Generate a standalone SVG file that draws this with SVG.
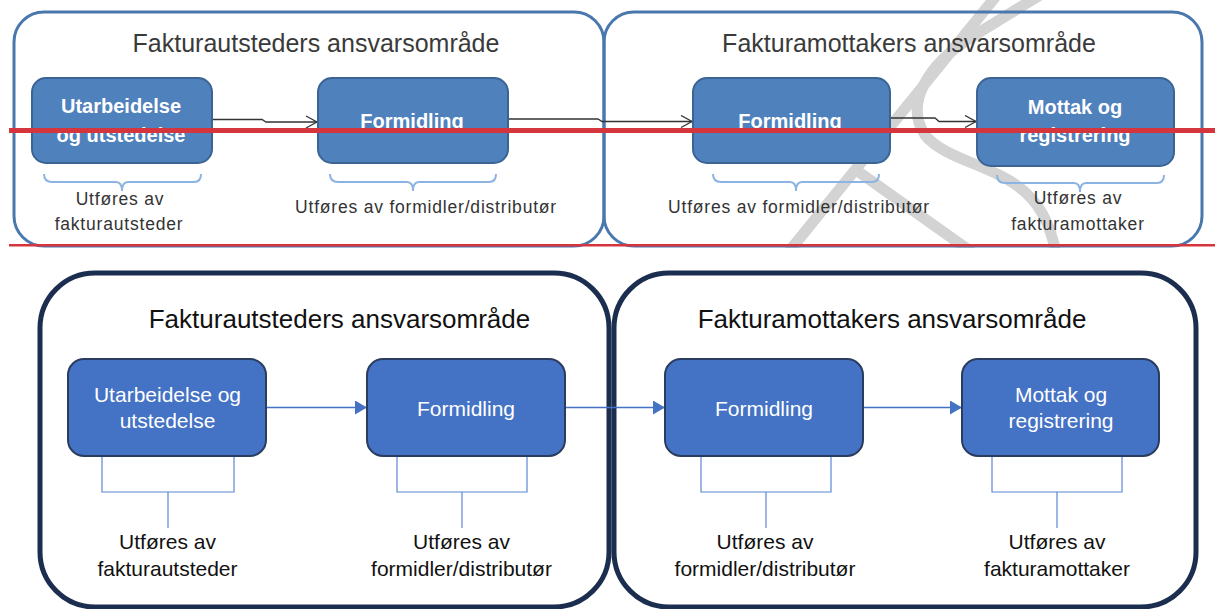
<svg xmlns="http://www.w3.org/2000/svg" width="1215" height="609" viewBox="0 0 1215 609">
<style>
text{font-family:"Liberation Sans",Arial,sans-serif}
.t-title{font-size:25px;fill:#3a3a3a;text-anchor:middle}
.t-box{font-size:20px;font-weight:bold;fill:#fff;text-anchor:middle}
.t-lbl{font-size:17.5px;fill:#333;text-anchor:middle;letter-spacing:0.8px}
.t-outer{fill:none;stroke:#4a78ae;stroke-width:3}
.t-node{fill:#4f81bd;stroke:#3b6494;stroke-width:2}
.t-conn{fill:none;stroke:#333;stroke-width:1.3}
.t-brk{fill:none;stroke:#8db3e2;stroke-width:2}
.wm{fill:none;stroke:#d3d3d3;stroke-width:11}
.b-outer{fill:none;stroke:#1b2e50;stroke-width:5}
.b-title{font-size:26px;fill:#111;text-anchor:middle}
.b-node{fill:#4472c4;stroke:#2b3d5e;stroke-width:2}
.b-box{font-size:21px;fill:#fff;text-anchor:middle}
.b-lbl{font-size:21px;fill:#111;text-anchor:middle}
.b-conn{fill:none;stroke:#4472c4;stroke-width:1.5}
.b-brk{fill:none;stroke:#5b87d4;stroke-width:1.2}
.red{fill:#d5353c}
</style>
<defs>
<clipPath id="topClip"><rect x="0" y="0" width="1215" height="248"/></clipPath>
<marker id="tArrow" markerWidth="14" markerHeight="14" refX="12" refY="7" orient="auto" markerUnits="userSpaceOnUse"><path d="M1,1 L12,7 L1,13" fill="none" stroke="#333" stroke-width="1.3"/></marker>
<marker id="bArrow" markerWidth="12" markerHeight="14" refX="12" refY="7" orient="auto" markerUnits="userSpaceOnUse"><path d="M0,0 L12,7 L0,14 Z" fill="#4472c4"/></marker>
</defs>
<rect x="0" y="0" width="1215" height="609" fill="#fff"/>

<!-- top (old) diagram -->
<g id="watermark" clip-path="url(#topClip)">
<path class="wm" d="M997,-5 L778,265"/>
<path class="wm" d="M856,170 L980,258"/>
<path class="wm" d="M1040,-5 L975,35 C925,65 905,105 925,135 C945,160 995,165 1025,192 C1045,210 1052,232 1058,262"/>
</g>

<g id="top-area-issuer"><rect class="t-outer" x="14" y="12" width="590" height="234" rx="30"/><text class="t-title" x="316" y="52">Fakturautsteders ansvarsområde</text></g>
<g id="top-area-receiver"><rect class="t-outer" x="604" y="12" width="598" height="234" rx="30"/><text class="t-title" x="909" y="52">Fakturamottakers ansvarsområde</text></g>

<g id="top-connectors">
<path class="t-conn" d="M212,119.5 H262 L266,122 H317" marker-end="url(#tArrow)"/>
<path class="t-conn" d="M508,119 H598 L602,121.5 H692" marker-end="url(#tArrow)"/>
<path class="t-conn" d="M890,118 H935 L939,121.5 H976" marker-end="url(#tArrow)"/>
<path class="t-brk" d="M44,174 Q44,182 52,182 H116 Q122,182 122,191 Q122,182 128,182 H194 Q201,182 201,174"/>
<path class="t-brk" d="M330,174 Q330,182 338,182 H407 Q413,182 413,191 Q413,182 419,182 H489 Q496,182 496,174"/>
<path class="t-brk" d="M713,174 Q713,182 721,182 H790 Q796,182 796,191 Q796,182 802,182 H872 Q879,182 879,174"/>
<path class="t-brk" d="M997,175 Q997,183 1005,183 H1074 Q1080,183 1080,192 Q1080,183 1086,183 H1157 Q1164,183 1164,175"/>
</g>

<g id="top-node-1"><rect class="t-node" x="32" y="78" width="180" height="85" rx="14"/><text class="t-box" x="121" y="113">Utarbeidelse</text><text class="t-box" x="121" y="142">og utstedelse</text></g>
<g id="top-node-2"><rect class="t-node" x="318" y="78" width="190" height="85" rx="14"/><text class="t-box" x="412" y="128">Formidling</text></g>
<g id="top-node-3"><rect class="t-node" x="693" y="78" width="197" height="85" rx="14"/><text class="t-box" x="790" y="128">Formidling</text></g>
<g id="top-node-4"><rect class="t-node" x="977" y="78" width="197" height="88" rx="14"/><text class="t-box" x="1075" y="114">Mottak og</text><text class="t-box" x="1075" y="142">registrering</text></g>

<g id="top-labels">
<text class="t-lbl" x="120" y="205">Utføres av</text>
<text class="t-lbl" x="119" y="230">fakturautsteder</text>
<text class="t-lbl" x="426" y="213">Utføres av formidler/distributør</text>
<text class="t-lbl" x="799" y="213">Utføres av formidler/distributør</text>
<text class="t-lbl" x="1078" y="204">Utføres av</text>
<text class="t-lbl" x="1078" y="230">fakturamottaker</text>
</g>

<g id="red-lines">
<rect class="red" x="9" y="128" width="1206" height="5"/>
<rect class="red" x="9" y="244" width="1206" height="2.5"/>
</g>

<!-- bottom (new) diagram -->
<g id="area-issuer"><rect class="b-outer" x="40" y="273" width="569" height="334" rx="55"/><text class="b-title" x="339.5" y="328">Fakturautsteders ansvarsområde</text></g>
<g id="area-receiver"><rect class="b-outer" x="614" y="273" width="582" height="334" rx="55"/><text class="b-title" x="892" y="328">Fakturamottakers ansvarsområde</text></g>

<g id="connectors">
<path class="b-conn" d="M266,407.5 H367" marker-end="url(#bArrow)"/>
<path class="b-conn" d="M565,407.5 H665" marker-end="url(#bArrow)"/>
<path class="b-conn" d="M863,407.5 H962" marker-end="url(#bArrow)"/>
<path class="b-brk" d="M102,456 V492 H234 V456 M168,492 V528"/>
<path class="b-brk" d="M397,456 V492 H527 V456 M462,492 V528"/>
<path class="b-brk" d="M701,456 V492 H831 V456 M766,492 V528"/>
<path class="b-brk" d="M992,456 V492 H1122 V456 M1057,492 V528"/>
</g>

<g id="node-1"><rect class="b-node" x="68" y="359" width="198" height="97" rx="16"/><text class="b-box" x="167.5" y="402">Utarbeidelse og</text><text class="b-box" x="167.5" y="428">utstedelse</text></g>
<g id="node-2"><rect class="b-node" x="367" y="359" width="198" height="97" rx="16"/><text class="b-box" x="466" y="416">Formidling</text></g>
<g id="node-3"><rect class="b-node" x="665" y="359" width="198" height="97" rx="16"/><text class="b-box" x="764" y="416">Formidling</text></g>
<g id="node-4"><rect class="b-node" x="962" y="359" width="197" height="97" rx="16"/><text class="b-box" x="1061" y="402">Mottak og</text><text class="b-box" x="1061" y="428">registrering</text></g>

<g id="labels">
<text class="b-lbl" x="167.5" y="549">Utføres av</text>
<text class="b-lbl" x="167.5" y="576">fakturautsteder</text>
<text class="b-lbl" x="461.5" y="549">Utføres av</text>
<text class="b-lbl" x="461.5" y="576">formidler/distributør</text>
<text class="b-lbl" x="765" y="549">Utføres av</text>
<text class="b-lbl" x="765" y="576">formidler/distributør</text>
<text class="b-lbl" x="1057" y="549">Utføres av</text>
<text class="b-lbl" x="1057" y="576">fakturamottaker</text>
</g>
</svg>
